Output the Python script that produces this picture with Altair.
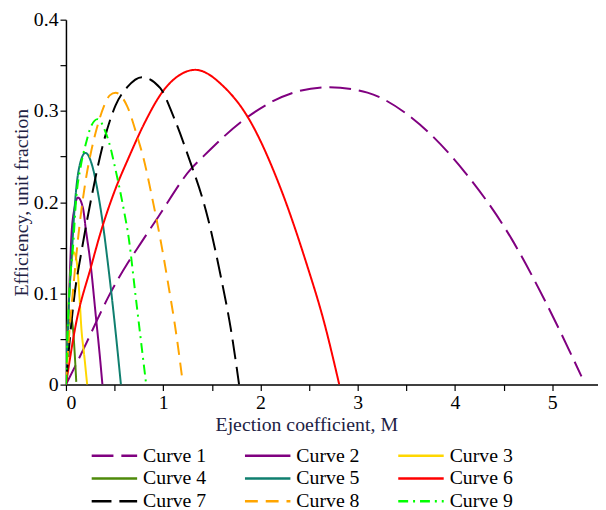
import altair as alt
import pandas as pd

curve_names = ["Curve 1", "Curve 2", "Curve 3", "Curve 4", "Curve 5",
               "Curve 6", "Curve 7", "Curve 8", "Curve 9"]

m1 = [0, 0.19, 0.326, 0.44, 0.64, 0.763, 0.95, 1.29, 1.42, 1.85, 2.37, 2.71, 3.1, 3.56, 4.10, 4.58, 4.92, 5.30]
e1 = [0, 0.041, 0.072, 0.097, 0.134, 0.154, 0.184, 0.237, 0.251, 0.292, 0.321, 0.326, 0.320, 0.292, 0.233, 0.160, 0.093, 0.009]

m2 = [0, 0.02, 0.04, 0.055, 0.089, 0.123, 0.174, 0.207, 0.25, 0.31, 0.345, 0.375]
e2 = [0, 0.06, 0.12, 0.161, 0.194, 0.205, 0.194, 0.168, 0.135, 0.072, 0.035, 0.0]

m3 = [0, 0.02, 0.045, 0.08, 0.11, 0.14, 0.157, 0.19, 0.218]
e3 = [0, 0.07, 0.12, 0.145, 0.135, 0.095, 0.064, 0.03, 0.0]

m4 = [0, 0.015, 0.035, 0.055, 0.075, 0.089, 0.106]
e4 = [0, 0.045, 0.07, 0.072, 0.058, 0.036, 0.003]

m5 = [0, 0.015, 0.035, 0.055, 0.082, 0.106, 0.14, 0.2, 0.275, 0.326, 0.377, 0.44, 0.48, 0.52, 0.565]
e5 = [0, 0.05, 0.10, 0.133, 0.183, 0.215, 0.240, 0.254, 0.238, 0.212, 0.178, 0.125, 0.088, 0.048, 0.0]

m6 = [0, 0.1, 0.26, 0.36, 0.5, 0.65, 0.8, 1.0, 1.15, 1.33, 1.628, 1.865, 2.2, 2.475, 2.65, 2.81]
e6 = [0, 0.065, 0.13, 0.168, 0.212, 0.250, 0.285, 0.322, 0.338, 0.345, 0.326, 0.294, 0.217, 0.132, 0.07, 0.0]

m7 = [0, 0.04, 0.09, 0.155, 0.26, 0.39, 0.51, 0.63, 0.78, 0.97, 1.105, 1.255, 1.458, 1.593, 1.695, 1.78]
e7 = [0, 0.05, 0.10, 0.143, 0.204, 0.267, 0.306, 0.326, 0.337, 0.325, 0.294, 0.251, 0.183, 0.118, 0.061, 0.0]

m8 = [0, 0.03, 0.07, 0.14, 0.2, 0.26, 0.32, 0.39, 0.45, 0.51, 0.63, 0.73, 0.80, 0.88, 0.98, 1.05, 1.136, 1.195]
e8 = [0, 0.05, 0.10, 0.175, 0.222, 0.256, 0.282, 0.305, 0.317, 0.320, 0.305, 0.273, 0.247, 0.208, 0.154, 0.111, 0.054, 0.007]

m9 = [0, 0.015, 0.04, 0.072, 0.106, 0.15, 0.207, 0.258, 0.326, 0.41, 0.462, 0.492, 0.594, 0.645, 0.713, 0.78, 0.825]
e9 = [0, 0.05, 0.11, 0.15, 0.205, 0.238, 0.265, 0.283, 0.291, 0.276, 0.258, 0.244, 0.192, 0.161, 0.100, 0.04, 0.0]

all_m = [m1, m2, m3, m4, m5, m6, m7, m8, m9]
all_e = [e1, e2, e3, e4, e5, e6, e7, e8, e9]

colors = ["#800080", "#800080", "#FFD700", "#4E8A0A", "#0F7F6F",
          "#FF0000", "#000000", "#FFA500", "#00FF00"]
dashes = [[22, 8], [1, 0], [1, 0], [1, 0], [1, 0],
          [1, 0], [20, 8], [13, 8], [10, 5, 2, 5]]

x_ticks = [0, 0.5, 1, 1.5, 2, 2.5, 3, 3.5, 4, 4.5, 5]
y_ticks = [0, 0.05, 0.1, 0.15, 0.2, 0.25, 0.3, 0.35, 0.4]

rows = []
for name, ms, es in zip(curve_names, all_m, all_e):
    for i, (m, e) in enumerate(zip(ms, es)):
        rows.append({"curve": name, "M": m, "eta": e, "order": i})
df = pd.DataFrame(rows)

FONT = "Liberation Serif"
SYMBOL = "M-4,0H4"

legend_kw = dict(title=None, orient="none", legendX=39, legendY=431, columns=3,
                 direction="horizontal", symbolType=SYMBOL)

chart = alt.Chart(df).mark_line(strokeWidth=2, interpolate="monotone", clip=True).encode(
    x=alt.X("M:Q", scale=alt.Scale(domain=[0, 5.47], nice=False),
            axis=alt.Axis(title="Ejection coefficient, M", values=x_ticks,
                          labelExpr="datum.value % 1 == 0 ? datum.label : ''",
                          format="~g", titleX=243)),
    y=alt.Y("eta:Q", scale=alt.Scale(domain=[0, 0.4], nice=False),
            axis=alt.Axis(title="Efficiency, unit fraction", values=y_ticks,
                          labelExpr="(round(datum.value*100) % 10 == 0) ? datum.label : ''",
                          format=".2~f")),
    color=alt.Color("curve:N", scale=alt.Scale(domain=curve_names, range=colors),
                    legend=alt.Legend(**legend_kw)),
    strokeDash=alt.StrokeDash("curve:N", scale=alt.Scale(domain=curve_names, range=dashes),
                              legend=alt.Legend(**legend_kw)),
    order="order:Q",
).properties(
    width=538, height=369,
    padding={"left": 58.6, "top": 9, "right": 0, "bottom": 124},
    autosize=alt.AutoSizeParams(type="none"),
).configure_view(stroke=None).configure_axis(
    grid=False, domainColor="black", domainWidth=1.5, tickColor="black", tickSize=6,
    tickWidth=1.2, labelFont=FONT, labelFontSize=20, labelColor="black", labelPadding=2,
    titleFont=FONT, titleFontSize=20, titleFontWeight="normal", titleColor="#222244",
).configure_axisX(titlePadding=2).configure_axisY(titlePadding=2).configure_legend(
    labelFont=FONT, labelFontSize=20, labelColor="black", symbolSize=132,
    symbolStrokeWidth=2.5, columnPadding=34, rowPadding=3, labelOffset=19, padding=0,
    symbolType=SYMBOL, labelLimit=200
)

chart.save("out.html", embed_options={"renderer": "svg", "actions": False})
